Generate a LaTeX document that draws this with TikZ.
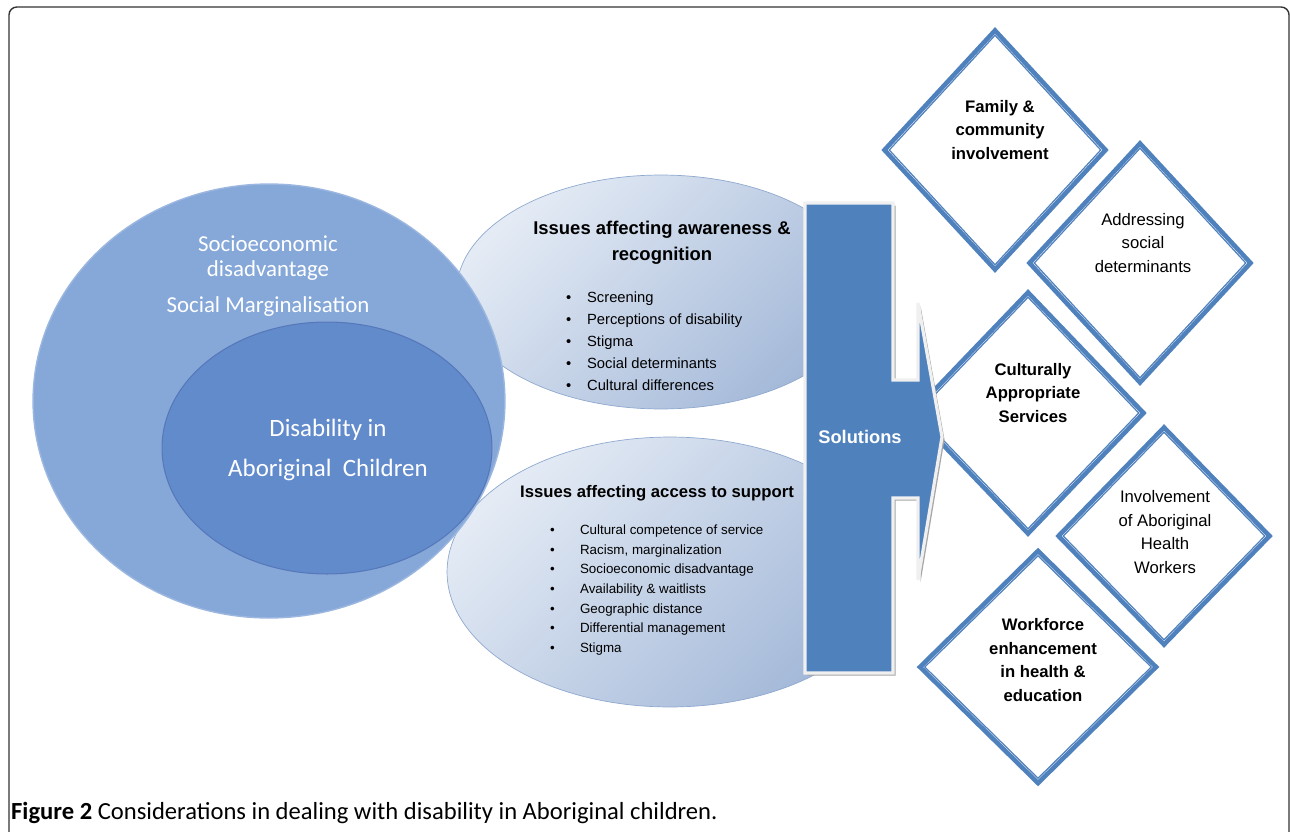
\documentclass[tikz,border=0pt]{standalone}
\usepackage{fontspec}
\setmainfont{Liberation Sans}
\newfontfamily\calfont{Carlito}
\usetikzlibrary{shapes.geometric}
\definecolor{solblue}{HTML}{4F81BD}
\definecolor{outerblue}{HTML}{86A8D9}
\definecolor{outeredge}{HTML}{9BB7E0}
\definecolor{innerblue}{HTML}{628BCC}
\definecolor{inneredge}{HTML}{5678B8}
\definecolor{issuelight}{HTML}{E4EBF5}
\definecolor{issuedark}{HTML}{A3B8D8}
\definecolor{issueedge}{HTML}{8FA9CF}
\tikzset{issue/.style={ellipse, draw=issueedge, line width=0.4pt, top color=issuelight, bottom color=issuedark, shading angle=45, inner sep=0pt}}
\tikzset{outerell/.style={ellipse, draw=outeredge, line width=0.8pt, fill=outerblue, inner sep=0pt}}
\tikzset{innerell/.style={ellipse, draw=inneredge, line width=0.6pt, fill=innerblue, inner sep=0pt}}
\tikzset{sol/.style={diamond, draw=solblue, line width=2.6pt, fill=white, inner sep=0pt}}
\tikzset{solin/.style={diamond, draw=solblue, line width=0.7pt, inner sep=0pt}}
\tikzset{soltext/.style={align=center, font=\fontsize{9.5}{13.3}\selectfont}}
\tikzset{bul/.style={align=left, anchor=west}}
\tikzset{whitetext/.style={align=center, text=white, font=\calfont\fontsize{13}{14.2}\selectfont}}

\begin{document}
\begin{tikzpicture}[x=0.02cm, y=-0.02cm]
  \useasboundingbox (0,0) rectangle (1290,831);
  \draw[black!80, line width=0.8pt, rounded corners=4.5pt] (9,845) |- (1289,7) -- (1289,845);

  % issues
  \node[issue, minimum width=8.18cm, minimum height=4.68cm] (aware) at (661,292) {};
  \node[issue, minimum width=8.92cm, minimum height=5.4cm] (access) at (670,572) {};

  % left circles
  \node[outerell, minimum width=9.44cm, minimum height=8.68cm] (social) at (269,401) {};
  \node[innerell, minimum width=6.6cm, minimum height=5.04cm] (disab) at (327,448) {};

  \node[whitetext] (socio) at (268,258) {Socioeconomic\\disadvantage};
  \node[whitetext] (marg) at (268,307) {Social Marginalisation};
  \node[whitetext, font=\calfont\fontsize{14.2}{22.7}\selectfont] (disabtxt) at (328,450) {Disability in\\Aboriginal~ Children};

  % issue texts
  \node[align=center, font=\fontsize{10.5}{14.7}\selectfont\bfseries] (awarehd) at (662,243) {Issues affecting awareness \&\\recognition};
  \node[bul, font=\fontsize{8.4}{12.5}\selectfont] (awarelist) at (560,341) {%
    \makebox[11.9pt][l]{\textbullet}Screening\\
    \makebox[11.9pt][l]{\textbullet}Perceptions of disability\\
    \makebox[11.9pt][l]{\textbullet}Stigma\\
    \makebox[11.9pt][l]{\textbullet}Social determinants\\
    \makebox[11.9pt][l]{\textbullet}Cultural differences};
  \node[align=center, font=\fontsize{9.5}{13}\selectfont\bfseries] (accesshd) at (657,493) {Issues affecting access to support};
  \node[bul, font=\fontsize{7.6}{11.2}\selectfont] (accesslist) at (544,590) {%
    \makebox[17pt][l]{\textbullet}Cultural competence of service\\
    \makebox[17pt][l]{\textbullet}Racism, marginalization\\
    \makebox[17pt][l]{\textbullet}Socioeconomic disadvantage\\
    \makebox[17pt][l]{\textbullet}Availability \& waitlists\\
    \makebox[17pt][l]{\textbullet}Geographic distance\\
    \makebox[17pt][l]{\textbullet}Differential management\\
    \makebox[17pt][l]{\textbullet}Stigma};

  % solution diamonds
  \node[sol, minimum width=4.46cm, minimum height=4.82cm] (fam) at (995,150) {};
  \node[solin, minimum width=4.24cm, minimum height=4.6cm] (famin) at (995,150) {};
  \node[sol, minimum width=4.46cm, minimum height=4.82cm] (addr) at (1140,263) {};
  \node[solin, minimum width=4.24cm, minimum height=4.6cm] (addrin) at (1140,263) {};
  \node[sol, minimum width=4.66cm, minimum height=4.86cm] (cult) at (1028,413) {};
  \node[solin, minimum width=4.44cm, minimum height=4.64cm] (cultin) at (1028,413) {};
  \node[sol, minimum width=4.26cm, minimum height=4.38cm] (invol) at (1164,536) {};
  \node[solin, minimum width=4.04cm, minimum height=4.16cm] (involin) at (1164,536) {};
  \node[sol, minimum width=4.76cm, minimum height=4.68cm] (work) at (1038,667) {};
  \node[solin, minimum width=4.54cm, minimum height=4.46cm] (workin) at (1038,667) {};

  \node[soltext, font=\fontsize{9.5}{13.3}\selectfont\bfseries] (famtxt) at (1000,130) {Family \&\\community\\involvement};
  \node[soltext] (addrtxt) at (1143,243) {Addressing\\social\\determinants};
  \node[soltext, font=\fontsize{9.5}{13.3}\selectfont\bfseries] (culttxt) at (1033,393) {Culturally\\Appropriate\\Services};
  \node[soltext] (involtxt) at (1165,532) {Involvement\\of Aboriginal\\Health\\Workers};
  \node[soltext, font=\fontsize{9.5}{13.3}\selectfont\bfseries] (worktxt) at (1043,660) {Workforce\\enhancement\\in health \&\\education};

  % solutions arrow
  \fill[black!35, shift={(2.5,2.5)}] (805,203) -- (893,203) -- (893,380) -- (918,380) -- (918,303) -- (942,437)
    -- (918,580) -- (918,498) -- (893,498) -- (893,673) -- (805,673) -- cycle;
  \draw[black!6, line width=1.8pt, fill=solblue] (805,203) -- (893,203) -- (893,380) -- (918,380) -- (918,303) -- (942,437)
    -- (918,580) -- (918,498) -- (893,498) -- (893,673) -- (805,673) -- cycle;
  \node[text=white, font=\fontsize{10.4}{12}\selectfont\bfseries] (solut) at (860,437) {Solutions};

  \node[anchor=west, font=\calfont\fontsize{14}{16}\selectfont] (caption) at (5,813) {\textbf{Figure 2} Considerations in dealing with disability in Aboriginal children.};
\end{tikzpicture}
\end{document}
